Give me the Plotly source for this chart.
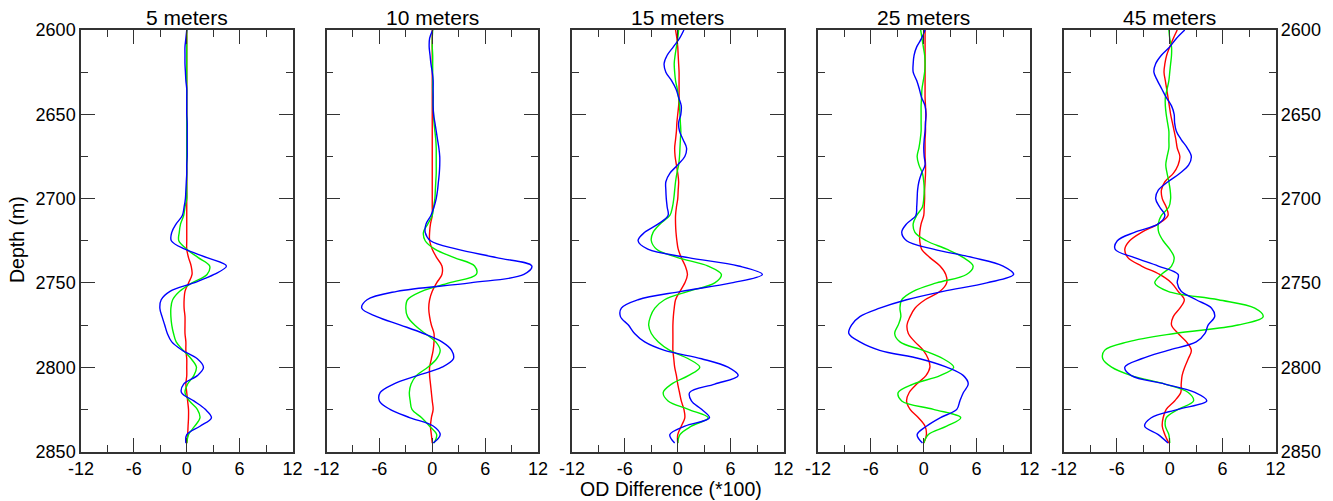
import plotly.graph_objects as go

# Depth samples (m), shared by every trace
depth = list(range(2600, 2850, 5))

panel_titles = ["5 meters", "10 meters", "15 meters", "25 meters", "45 meters"]

# ---- 5 meters ----
red_5 = [0, 0, 0, 0, 0, 0, 0, 0, 0, 0,
         0, 0, 0, 0, 0, 0, 0, 0, 0, 0,
         0, 0, 0, 0, 0, 0, 0, 0.2, 0.5, 0.6,
         0.2, -0.2, -0.3, -0.3, -0.2, -0.2, -0.2, -0.1, -0.1, 0,
         0, 0, -0.1, 0, 0.1, 0.2, 0.2, 0.15, 0.1, 0]
green_5 = [0, 0, 0, 0, 0, 0, 0, 0, 0, 0,
           0, 0, 0, 0, 0, 0, 0, 0, 0, 0,
           0, -0.2, -0.35, -0.7, -0.85, -0.9, 0, 1.3, 2.6, 2.3,
           0.6, -0.8, -1.6, -1.8, -1.8, -1.7, -1.5, -1.2, -0.4, 0.5,
           1.1, 0.8, 0.1, -0.2, 0.3, 1.2, 1.5, 0.9, 0.2, 0]
blue_5 = [0, -0.1, -0.2, -0.2, -0.2, -0.15, -0.1, 0, 0, 0,
          0, 0.05, 0.05, 0.05, 0.05, 0.05, 0, 0, -0.05, -0.1,
          -0.15, -0.3, -0.5, -1.2, -1.7, -1.75, -0.2, 2.3, 4.5, 3.1,
          0.8, -1.9, -2.9, -3.05, -2.8, -2.5, -2.2, -1.7, -0.5, 1.2,
          1.9, 1.2, -0.35, -0.6, 0.8, 2.1, 2.8, 1.5, 0, -0.1]

# ---- 10 meters ----
red_10 = [0, 0, 0, 0, 0, 0, 0, 0, 0, 0,
          0, 0, 0, 0, 0, 0, 0, 0, 0, 0,
          0, 0, 0, -0.2, -0.3, -0.3, 0, 0.5, 1.1, 1.1,
          0.5, 0, -0.3, -0.4, -0.3, -0.1, 0.2, 0.2, 0.1, -0.1,
          -0.3, -0.3, -0.2, -0.1, 0, 0.1, -0.1, -0.2, -0.1, 0]
green_10 = [0.05, 0, 0, 0.05, 0.05, 0.05, 0.05, 0.05, 0.1, 0.1,
            0.15, 0.2, 0.3, 0.4, 0.45, 0.45, 0.45, 0.45, 0.4, 0.35,
            0.3, 0.15, 0, -0.5, -1.0, -0.8, 0.3, 2.5, 4.8, 5.0,
            1.9, -1.2, -2.8, -3.0, -2.8, -2.0, -0.8, 0.4, 0.9, 0.5,
            -0.5, -1.8, -2.4, -2.6, -2.5, -2.3, -1.2, -0.3, 0.5, 0.2]
blue_10 = [0.05, -0.3, -0.35, -0.25, -0.15, 0, 0.1, 0.1, 0.1, 0.1,
           0.15, 0.3, 0.45, 0.6, 0.75, 0.85, 0.85, 0.8, 0.7, 0.6,
           0.45, 0.2, -0.15, -0.7, -0.8, -0.2, 2.8, 7.3, 11.3, 10.4,
           4.3, -4.0, -7.4, -8.0, -6.3, -3.6, -1.0, 1.1, 2.2, 2.4,
           1.1, -1.7, -4.4, -5.9, -6.0, -4.8, -2.5, 0.15, 0.9, 0.1]

# ---- 15 meters ----
red_15 = [-0.25, -0.1, 0, 0.05, 0.1, 0.15, 0.15, 0.15, 0.15, 0.1,
          0, -0.1, -0.15, -0.25, -0.35, -0.3, -0.15, 0, 0.1, 0.05,
          0, -0.15, -0.25, -0.25, -0.2, -0.1, 0.05, 0.4, 0.85, 1.1,
          0.8, 0.25, -0.25, -0.4, -0.5, -0.55, -0.55, -0.55, -0.55, -0.45,
          -0.35, -0.15, 0, 0.2, 0.4, 0.7, 0.8, 0.4, 0, 0]
green_15 = [0.1, 0, -0.15, -0.3, -0.4, -0.35, -0.25, -0.05, 0.1, 0.2,
            0.25, 0.3, 0.35, 0.3, 0.25, 0.2, 0.1, -0.1, -0.25, -0.35,
            -0.45, -0.6, -0.9, -2.0, -2.8, -3.0, -2.4, 0, 3.45, 4.95,
            4.2, 1.2, -1.5, -2.6, -3.1, -3.3, -3.0, -2.2, -0.9, 1.2,
            2.5, 1.2, -0.7, -1.65, -1.1, 1.2, 3.45, 1.55, 0.25, 0]
blue_15 = [0.7, 0.2, -0.5, -1.2, -1.55, -1.35, -0.7, -0.2, 0.1, 0.4,
           0.35, 0.1, 0.2, 0.6, 1.0, 0.8, 0, -0.9, -1.35, -1.35,
           -1.3, -1.2, -1.1, -2.2, -3.75, -4.5, -3.4, 1.2, 6.9, 9.6,
           6.1, 0.4, -4.5, -6.4, -6.5, -5.6, -4.9, -3.75, -1.5, 2.7,
           5.7, 6.85, 4.2, 1.35, 1.55, 2.7, 3.6, 0.8, -0.9, -0.35]

# ---- 25 meters ----
red_25 = [0.15, 0.15, 0.15, 0.15, 0.15, 0.15, 0.15, 0.15, 0.15, 0.2,
          0.25, 0.2, 0.2, 0.15, 0.15, 0.15, 0.2, 0.2, 0.15, 0.1,
          0.1, 0.05, 0, -0.3, -0.45, -0.45, -0.25, 0.7, 1.85, 2.5,
          2.6, 1.85, 0.15, -1.0, -1.55, -1.9, -1.75, -1.0, -0.05, 0.5,
          0.7, 0.25, -0.8, -1.65, -1.95, -1.55, -0.6, 0.15, 0.3, 0]
green_25 = [-0.35, -0.2, -0.05, 0.1, 0.15, 0.1, -0.05, -0.2, -0.25, -0.3,
            -0.3, -0.3, -0.3, -0.4, -0.55, -0.75, -0.55, -0.15, 0, 0.05,
            0, -0.15, -0.8, -1.2, -1.0, 0.3, 2.6, 4.5, 5.6, 4.85,
            1.45, -1.2, -2.5, -2.7, -2.6, -2.9, -3.3, -2.7, -0.05, 2.2,
            3.4, 1.85, -1.2, -2.9, -2.5, 1.1, 4.2, 2.6, 0.5, 0]
blue_25 = [0.15, -0.25, -0.8, -1.1, -1.2, -1.2, -0.8, -0.5, -0.25, 0.15,
           0.25, 0.2, 0.15, 0.05, 0, 0.05, 0.15, -0.25, -0.55, -0.7,
           -0.75, -0.8, -0.9, -1.95, -2.5, -1.95, 1.1, 5.6, 9.0, 10.2,
           7.15, 2.2, -1.95, -5.0, -7.25, -8.2, -8.5, -7.25, -5.0, -0.45,
           2.6, 4.5, 5.05, 4.5, 4.1, 3.75, 1.85, 0.3, -0.75, -0.15]

# ---- 45 meters ----
red_45 = [0.85, 0.4, 0, -0.35, -0.55, -0.65, -0.5, -0.35, -0.2, -0.05,
          0.1, 0.3, 0.5, 0.7, 0.85, 1.15, 0.95, 0.4, -0.55, -0.95,
          -0.85, -0.4, -0.2, -1.3, -3.2, -4.55, -5.1, -4.75, -3.2, -1.15,
          0.2, 0.95, 1.65, 1.15, 0.4, 0.2, 0.95, 1.9, 2.45, 2.1,
          1.7, 1.4, 1.3, 1.25, 0.55, -0.4, -0.75, -0.85, -0.55, -0.1]
green_45 = [-0.1, 0, 0.2, 0.2, 0.1, 0, -0.1, -0.3, -0.5, -0.5,
            -0.4, -0.25, -0.1, -0.1, -0.1, -0.3, -0.45, -0.3, -0.1, 0.05,
            0.1, -0.1, -0.95, -1.3, -1.25, -0.75, 0, 0.5, 0.2, -0.95,
            -1.7, -0.2, 5.5, 9.65, 10.6, 7.75, 0.55, -4.75, -7.4, -7.6,
            -6.6, -4.35, -0.55, 2.1, 2.7, 0.95, -0.4, -0.5, -0.1, 0]
blue_45 = [1.7, 0.75, 0, -0.95, -1.6, -1.8, -1.4, -0.9, -0.4, 0.2,
           0.5, 0.55, 0.75, 1.3, 2.0, 2.45, 2.15, 1.15, -0.2, -1.3,
           -1.6, -1.15, -0.55, -1.3, -4.0, -5.95, -6.2, -4.0, -1.3, 0.95,
           0.85, 1.3, 3.0, 4.75, 5.1, 4.35, 4.0, 3.0, -0.2, -3.2,
           -5.1, -4.35, -0.55, 2.85, 4.2, 0.95, -2.1, -2.85, -1.3, -0.2]

panels = [
    (red_5, green_5, blue_5),
    (red_10, green_10, blue_10),
    (red_15, green_15, blue_15),
    (red_25, green_25, blue_25),
    (red_45, green_45, blue_45),
]

x_ticks = [-12, -6, 0, 6, 12]
y_ticks = [2600, 2650, 2700, 2750, 2800, 2850]

W, H = 1333, 501
panel_left_px = [81, 326.5, 572, 818, 1064]
panel_w_px = 211.5
plot_top_px, plot_bot_px = 30, 451.5

FONT = "Liberation Sans, Arial, sans-serif"
TICK_SIZE = 18
frame_col = "#333333"
colors = {"red": "#ff0000", "green": "#00f000", "blue": "#0000ff"}

fig = go.Figure()
layout = dict(
    width=W, height=H,
    margin=dict(l=0, r=0, t=0, b=0, autoexpand=False),
    paper_bgcolor="white", plot_bgcolor="white",
    showlegend=False,
    font=dict(family=FONT, size=TICK_SIZE, color="black"),
)

annotations = []
for i, (r, g, b) in enumerate(panels):
    n = "" if i == 0 else str(i + 1)
    xa, ya = "x" + n, "y" + n
    for vals, cname in ((r, "red"), (g, "green"), (b, "blue")):
        fig.add_trace(go.Scatter(
            x=vals, y=depth, mode="lines", xaxis=xa, yaxis=ya,
            line=dict(color=colors[cname], width=1.4, shape="spline", smoothing=1.0),
            hoverinfo="skip",
        ))
    x0 = panel_left_px[i] / W
    x1 = (panel_left_px[i] + panel_w_px) / W
    layout["xaxis" + n] = dict(
        domain=[x0, x1], anchor=ya, range=[-12, 12], automargin=False,
        tickvals=x_ticks, ticktext=[str(v) for v in x_ticks],
        ticks="inside", ticklen=14, tickwidth=1.2, tickcolor=frame_col,
        minor=dict(tickvals=[-9, -3, 3, 9], ticks="inside", ticklen=7,
                   tickwidth=1.2, tickcolor=frame_col),
        showline=True, linecolor=frame_col, linewidth=1.5, mirror="allticks",
        showgrid=False, zeroline=False,
        tickfont=dict(family=FONT, size=TICK_SIZE, color="black"),
        fixedrange=True,
    )
    ydict = dict(
        domain=[1 - plot_bot_px / H, 1 - plot_top_px / H], anchor=xa,
        range=[2850, 2600], automargin=False,
        tickvals=y_ticks, ticktext=[str(v) for v in y_ticks],
        ticks="inside", ticklen=14, tickwidth=1.2, tickcolor=frame_col,
        minor=dict(tickvals=[2625, 2675, 2725, 2775, 2825], ticks="inside",
                   ticklen=7, tickwidth=1.2, tickcolor=frame_col),
        showline=True, linecolor=frame_col, linewidth=1.5, mirror="allticks",
        showgrid=False, zeroline=False,
        tickfont=dict(family=FONT, size=TICK_SIZE, color="black"),
        fixedrange=True,
    )
    if i == 0:
        ydict["showticklabels"] = True
        ydict["side"] = "left"
    elif i == len(panels) - 1:
        ydict["showticklabels"] = True
        ydict["side"] = "right"
    else:
        ydict["showticklabels"] = False
    layout["yaxis" + n] = ydict

    annotations.append(dict(
        text=panel_titles[i], xref="paper", yref="paper",
        x=(x0 + x1) / 2, y=1 - 17 / H, xanchor="center", yanchor="middle",
        showarrow=False, font=dict(family=FONT, size=21, color="black"),
    ))

annotations.append(dict(
    text="Depth (m)", xref="paper", yref="paper",
    x=17 / W, y=1 - 240 / H, xanchor="center", yanchor="middle",
    textangle=-90, showarrow=False, font=dict(family=FONT, size=19.5, color="black"),
))
annotations.append(dict(
    text="OD Difference (*100)", xref="paper", yref="paper",
    x=671 / W, y=1 - 489 / H, xanchor="center", yanchor="middle",
    showarrow=False, font=dict(family=FONT, size=19.5, color="black"),
))
layout["annotations"] = annotations

fig.update_layout(**layout)
fig.write_html(
    "out.html",
    config={"displayModeBar": False},
    post_script="document.body.style.margin='0';document.body.style.overflow='hidden';",
)
